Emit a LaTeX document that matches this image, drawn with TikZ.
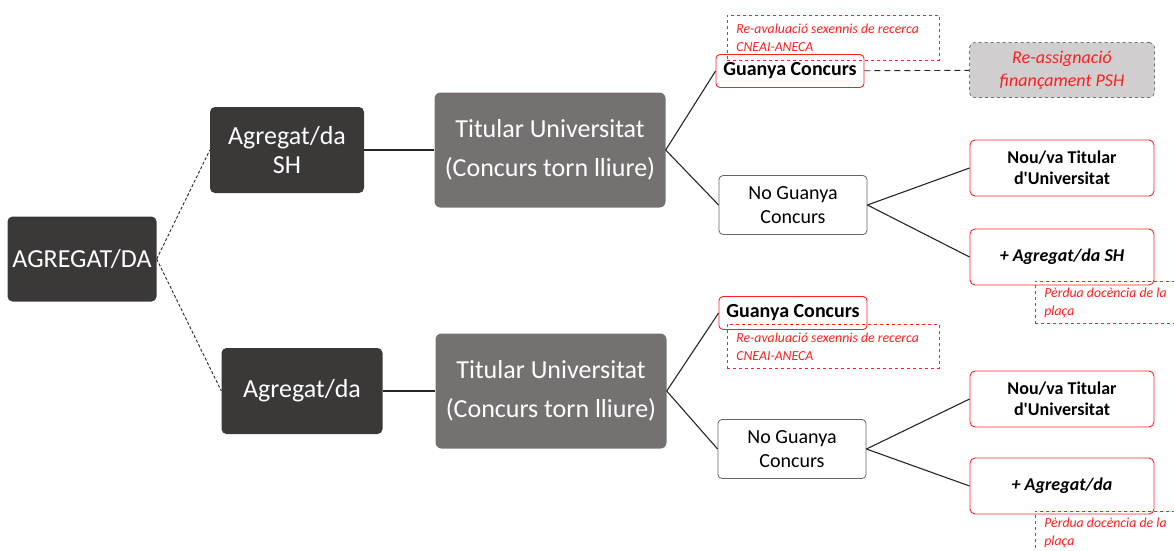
\documentclass[tikz,border=0pt]{standalone}
\usepackage{fontspec}
\setmainfont{Carlito}
\usetikzlibrary{positioning}
\definecolor{darkbox}{HTML}{3B3838}
\definecolor{midbox}{HTML}{767171}
\definecolor{lightbox}{HTML}{D0CECE}
\definecolor{redline}{HTML}{FF2020}
\begin{document}
\begin{tikzpicture}[x=1pt,y=-1pt]
		\tikzset{dark/.style={rectangle, rounded corners=5pt, fill=darkbox, text=white, align=center, inner sep=0, font=\fontsize{26}{29}\selectfont}}
		\tikzset{mid/.style={rectangle, rounded corners=6pt, fill=midbox, text=white, align=center, inner sep=0, minimum width=231pt, minimum height=115pt, font=\fontsize{26}{39}\selectfont}}
		\tikzset{win/.style={rectangle, rounded corners=4pt, draw=redline, line width=0.9pt, fill=white, align=center, inner sep=0, minimum width=148pt, minimum height=33pt, font=\fontsize{20}{22}\selectfont\bfseries}}
		\tikzset{lose/.style={rectangle, rounded corners=4pt, draw=black!60, line width=0.8pt, fill=white, align=center, inner sep=0, minimum width=148pt, minimum height=59pt, font=\fontsize{20}{24}\selectfont}}
		\tikzset{result/.style={rectangle, rounded corners=5pt, draw=redline, line width=0.9pt, fill=white, align=center, inner sep=0, minimum width=184pt, minimum height=56pt, font=\fontsize{18}{21}\selectfont\bfseries}}
		\tikzset{note/.style={rectangle, draw=redline, dashed, line width=0.7pt, text=redline, anchor=north west, align=flush left, inner xsep=9pt, inner ysep=3pt, font=\fontsize{13.8}{18}\selectfont\itshape}}
		\tikzset{link/.style={draw=black!85, line width=1.1pt}}
		\tikzset{dlink/.style={draw=black!85, line width=0.9pt, dash pattern=on 3pt off 2pt}}
		\useasboundingbox (0,0) rectangle (1174,550);
		% left side
		\node[dark, minimum width=149pt, minimum height=85pt] at (82,259) (root) {AGREGAT/DA};
		\node[dark, minimum width=154pt, minimum height=86pt] at (287,150) (aggsh) {Agregat/da\\SH};
		\node[dark, minimum width=161pt, minimum height=86pt] at (302,391) (agg) {Agregat/da};
		\node[mid] at (550,150) (titsh) {Titular Universitat\\(Concurs torn lliure)};
		\node[mid] at (551,391) (tit) {Titular Universitat\\(Concurs torn lliure)};
		% upper branch
		\node[win] at (790,71) (winsh) {Guanya Concurs};
		\node[lose] at (793,205) (losesh) {No Guanya\\Concurs};
		\node[rectangle, rounded corners=5pt, draw=black!55, dashed, line width=0.8pt, fill=lightbox, text=redline, align=center, inner sep=0, minimum width=185pt, minimum height=55pt, font=\fontsize{18}{23}\selectfont\itshape] at (1062,70) (psh) {Re-assignació\\finançament PSH};
		\node[result] at (1062,168) (newsh) {Nou/va Titular\\d\textquotesingle Universitat};
		\node[result] at (1062,257) (keepsh) {\itshape + Agregat/da SH};
		% lower branch
		\node[win] at (793,313) (win) {Guanya Concurs};
		\node[lose] at (792,449) (lose) {No Guanya\\Concurs};
		\node[result] at (1062,399) (new) {Nou/va Titular\\d\textquotesingle Universitat};
		\node[result] at (1062,486) (keep) {\itshape + Agregat/da};
		% notes
		\node[note, text width=194pt, minimum height=45pt] at (727,15) (evalsh) {Re-avaluació sexennis de recerca\\CNEAI-ANECA};
		\node[note, text width=194pt, minimum height=44pt] at (727,324) (eval) {Re-avaluació sexennis de recerca\\CNEAI-ANECA};
		\node[note, text width=142pt, minimum height=42pt] at (1035,281) (losssh) {Pèrdua docència de la\\plaça};
		\node[note, text width=142pt, minimum height=42pt] at (1035,511) (loss) {Pèrdua docència de la\\plaça};
		% connectors
		\draw[dlink] (root.east) -- (aggsh.west);
		\draw[dlink] (root.east) -- (agg.west);
		\draw[link] (aggsh) -- (titsh);
		\draw[link] (agg) -- (tit);
		\draw[link] (titsh.east) -- (winsh.west);
		\draw[link] (titsh.east) -- (losesh.west);
		\draw[dlink, dash pattern=on 6pt off 4pt] (winsh) -- (psh);
		\draw[link] (losesh.east) -- (newsh.west);
		\draw[link] (losesh.east) -- (keepsh.west);
		\draw[link] (tit.east) -- (win.west);
		\draw[link] (tit.east) -- (lose.west);
		\draw[link] (lose.east) -- (new.west);
		\draw[link] (lose.east) -- (keep.west);
	\end{tikzpicture}
\end{document}
